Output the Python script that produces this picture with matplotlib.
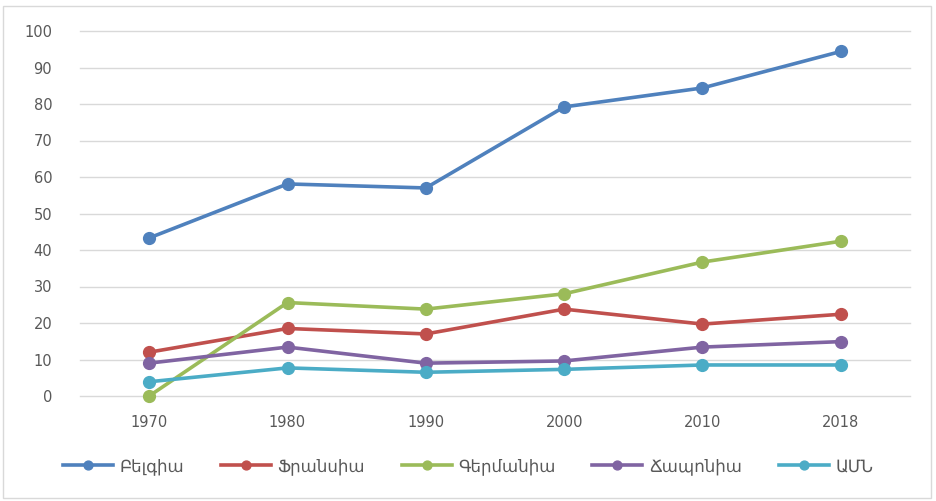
import numpy as np
import matplotlib.pyplot as plt
from matplotlib.patches import Rectangle

years = ["1970", "1980", "1990", "2000", "2010", "2018"]
belgium = [43.3, 58.1, 57.0, 79.2, 84.4, 94.4]
france = [12.0, 18.5, 17.0, 23.8, 19.7, 22.4]
germany = [0.0, 25.6, 23.8, 28.0, 36.7, 42.4]
japan = [9.0, 13.4, 9.0, 9.6, 13.4, 14.9]
usa = [3.9, 7.7, 6.5, 7.3, 8.5, 8.5]

names = ["Բելգիա", "Ֆրանսիա", "Գերմանիա", "Ճապոնիա", "ԱՄՆ"]
colors = ["#4F81BD", "#C0504D", "#9BBB59", "#8064A2", "#4BACC6"]

plt.rcParams['font.family'] = ['DejaVu Sans', 'Noto Sans']

fig = plt.figure(figsize=(9.36, 5.01), dpi=100)
ax = fig.add_axes([80 / 936, 1 - 396 / 501, 830 / 936, 365 / 501])

x = np.arange(len(years))
for series, name, c in zip([belgium, france, germany, japan, usa], names, colors):
    ax.plot(x, series, color=c, lw=2.6, marker='o', ms=8.5, label=name, clip_on=False, zorder=3)

ax.set_xlim(-0.5, len(years) - 0.5)
ax.set_ylim(0, 100)
ax.set_yticks(range(0, 101, 10))
ax.set_xticks(x)
ax.set_xticklabels(years)
# gridlines drawn by hand so the one at 0 is not clipped
for t in range(0, 101, 10):
    ax.axhline(t, color='#D9D9D9', lw=1, clip_on=False, zorder=1)
for s in ax.spines.values():
    s.set_visible(False)
ax.tick_params(length=0, colors='#595959', labelsize=10.5)
ax.tick_params(axis='y', pad=20)
ax.tick_params(axis='x', pad=14)

fig.legend(loc='center', bbox_to_anchor=(0.5, 1 - 466 / 501), ncol=5, frameon=False,
           fontsize=12, labelcolor='#595959', handlelength=3.0, columnspacing=2.2,
           handletextpad=0.4, markerscale=0.75)

fig.patches.append(Rectangle((3 / 936, 3 / 501), 928 / 936, 492 / 501, transform=fig.transFigure,
                             fill=False, edgecolor='#D9D9D9', lw=1))

fig.savefig("out.png", dpi=100)
